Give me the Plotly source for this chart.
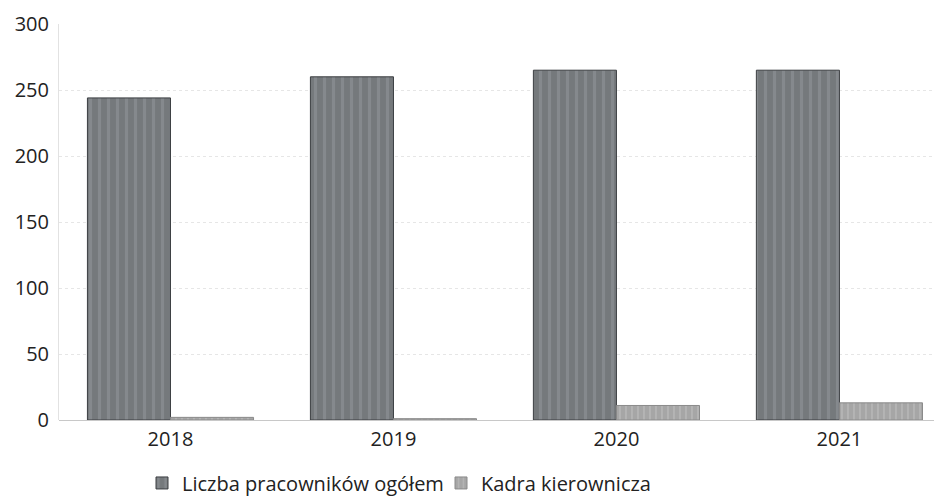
import plotly.graph_objects as go

years = ["2018", "2019", "2020", "2021"]
total_staff = [244, 260, 265, 265]
management = [2, 1, 11, 13]
series_names = ["Liczba pracowników ogółem", "Kadra kierownicza"]
y_ticks = [0, 50, 100, 150, 200, 250, 300]

fig = go.Figure()
fig.add_trace(go.Bar(
    x=years, y=total_staff, name=series_names[0],
    marker=dict(color="#75797c", line=dict(color="#3c3f42", width=1),
                pattern=dict(shape="|", fgcolor="#969a9d", size=9, solidity=0.35)),
))
fig.add_trace(go.Bar(
    x=years, y=management, name=series_names[1],
    marker=dict(color="#a6a6a6", line=dict(color="#8a8a8a", width=1),
                pattern=dict(shape="|", fgcolor="#c4c4c4", size=6, solidity=0.3)),
))

fig.update_layout(
    width=934, height=489,
    margin=dict(l=51, r=0, t=16, b=77, autoexpand=False),
    paper_bgcolor="white", plot_bgcolor="white",
    barmode="group", bargap=0.255, bargroupgap=0,
    font=dict(family="Open Sans", size=20, color="#222222"),
    showlegend=True,
    legend=dict(orientation="h", x=0.094, xanchor="left", y=-0.159, yanchor="middle",
                font=dict(size=20), itemwidth=30, traceorder="normal",
                entrywidth=254, entrywidthmode="pixels"),
    xaxis=dict(type="category", range=[-0.5, 3.46], showgrid=False, showline=False,
               ticks="", tickfont=dict(size=20), automargin=False, ticklabelstandoff=5),
    yaxis=dict(range=[0, 300], tickvals=y_ticks, showgrid=True, gridcolor="#e6e6e6",
               griddash="dot", gridwidth=1, zeroline=True, zerolinecolor="#c8c8c8",
               zerolinewidth=1, showline=True, linecolor="#e2e2e2", linewidth=1,
               ticks="", ticklabelstandoff=5, tickfont=dict(size=20), automargin=False),
)

fig.write_html("out.html")
